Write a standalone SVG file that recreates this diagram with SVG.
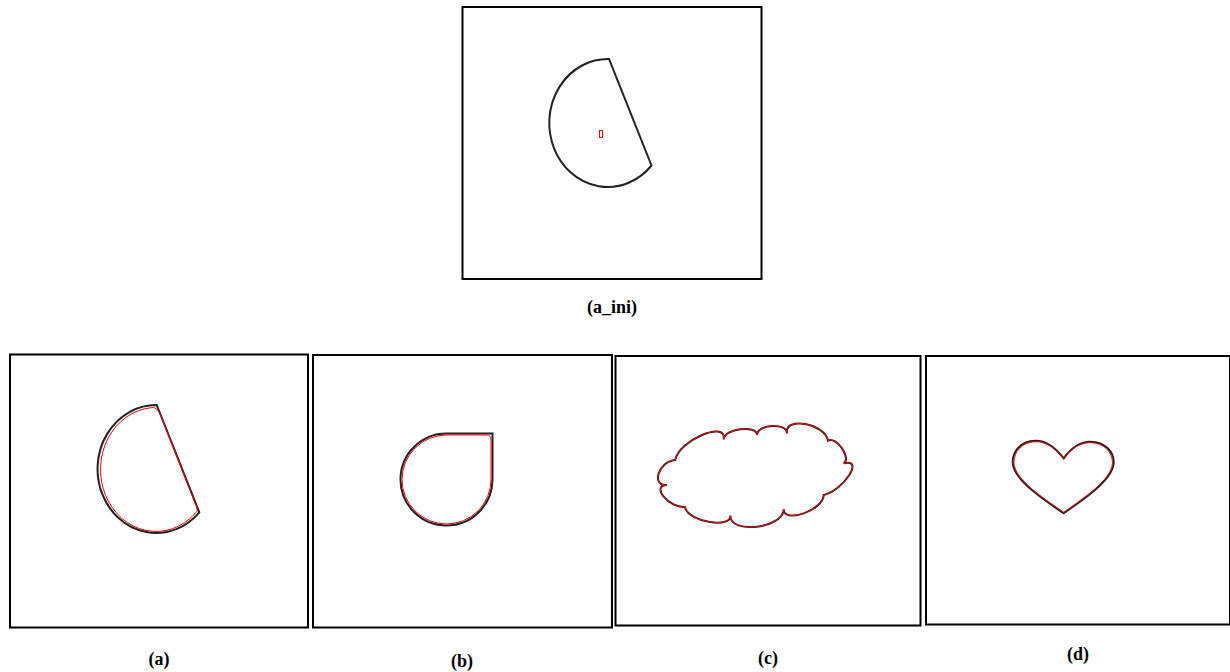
<svg xmlns="http://www.w3.org/2000/svg" width="1230" height="672" viewBox="0 0 1230 672">
<style>
.frame{fill:none;stroke:#000;stroke-width:2}
.shape{fill:none;stroke:#222;stroke-width:2;stroke-linejoin:miter}
.fit{fill:none;stroke:#f00;stroke-width:1}
.lbl{font-family:"Liberation Serif","Times New Roman",serif;font-weight:bold;font-size:18px;fill:#000;text-anchor:middle}
</style>
<rect width="1230" height="672" fill="#fff"/>
<g id="panel-a-ini">
<rect class="frame" x="462.5" y="7" width="299" height="272"/>
<path class="shape" d="M609,59 A58.5 64 0 1 0 651.5,165.5 Z"/>
<rect class="fit" x="599.5" y="130.5" width="3" height="7"/>
<text class="lbl" x="612" y="313">(a_ini)</text>
</g>
<g id="panel-a">
<rect class="frame" x="10" y="354.5" width="298" height="273"/>
<path class="shape" d="M156.7,405 A58.6 64 0 1 0 199.3,512.3 Z"/>
<path class="fit" d="M161,416 L197,508 Q198.5,511.5 195,513.6 A55.5 62 0 1 1 151.2,407.7 Q157,406 161,416 Z"/>
<text class="lbl" x="159" y="665">(a)</text>
</g>
<g id="panel-b">
<rect class="frame" x="313" y="355" width="299" height="272.5"/>
<path class="shape" d="M446.5,433.5 L492.5,433.5 L492.5,479.5 A46 46 0 1 1 446.5,433.5 Z"/>
<path class="fit" d="M446.5,435 L486.5,435 Q491,435 491,439.5 L491,479.5 A44.5 44.5 0 1 1 446.5,435 Z"/>
<text class="lbl" x="462" y="667">(b)</text>
</g>
<g id="panel-c">
<rect class="frame" x="615.5" y="356" width="305" height="269.5"/>
<path id="cloud" class="shape" d="M675.3,460 C678.6,440.5 727,419.8 723.7,439.3 C723.7,428.8 757,424.5 757,435 C757,424.1 787,422.4 787,433.3 C784.1,416 825.1,423.4 828,440.7 C836.2,435.8 851.9,458.4 843.7,463.3 C864.5,457.8 844.5,489.5 823.7,495 C823.7,509.9 783.7,524.2 783.7,509.3 C783.7,528.2 730.3,534.6 730.3,515.7 C731.5,529.3 686.5,520.9 685.3,507.3 C668.7,508 650.4,485.7 667,485 C650.4,486.1 658.7,461.1 675.3,460 Z"/>
<path class="fit" d="M675.3,460 C678.6,440.5 727,419.8 723.7,439.3 C723.7,428.8 757,424.5 757,435 C757,424.1 787,422.4 787,433.3 C784.1,416 825.1,423.4 828,440.7 C836.2,435.8 851.9,458.4 843.7,463.3 C864.5,457.8 844.5,489.5 823.7,495 C823.7,509.9 783.7,524.2 783.7,509.3 C783.7,528.2 730.3,534.6 730.3,515.7 C731.5,529.3 686.5,520.9 685.3,507.3 C668.7,508 650.4,485.7 667,485 C650.4,486.1 658.7,461.1 675.3,460 Z"/>
<text class="lbl" x="768" y="664">(c)</text>
</g>
<g id="panel-d">
<rect class="frame" x="926" y="356" width="304" height="268.5"/>
<path class="shape" d="M1063.7,458.3 C1055,447 1045,440.5 1035.3,440.7 C1020,441 1012.7,452 1012.7,462 C1012.7,480 1045,500 1063.7,513.3 C1082,500 1113.7,480 1113.7,462 C1113.7,452 1105,441.5 1090.3,441.7 C1080,442 1071,448 1063.7,458.3 Z"/>
<path class="fit" transform="translate(1064 477) scale(0.975) translate(-1064 -477)" d="M1063.7,458.3 C1055,447 1045,440.5 1035.3,440.7 C1020,441 1012.7,452 1012.7,462 C1012.7,480 1045,500 1063.7,513.3 C1082,500 1113.7,480 1113.7,462 C1113.7,452 1105,441.5 1090.3,441.7 C1080,442 1071,448 1063.7,458.3 Z"/>
<text class="lbl" x="1078" y="660">(d)</text>
</g>
<g id="connectors"></g>
</svg>
